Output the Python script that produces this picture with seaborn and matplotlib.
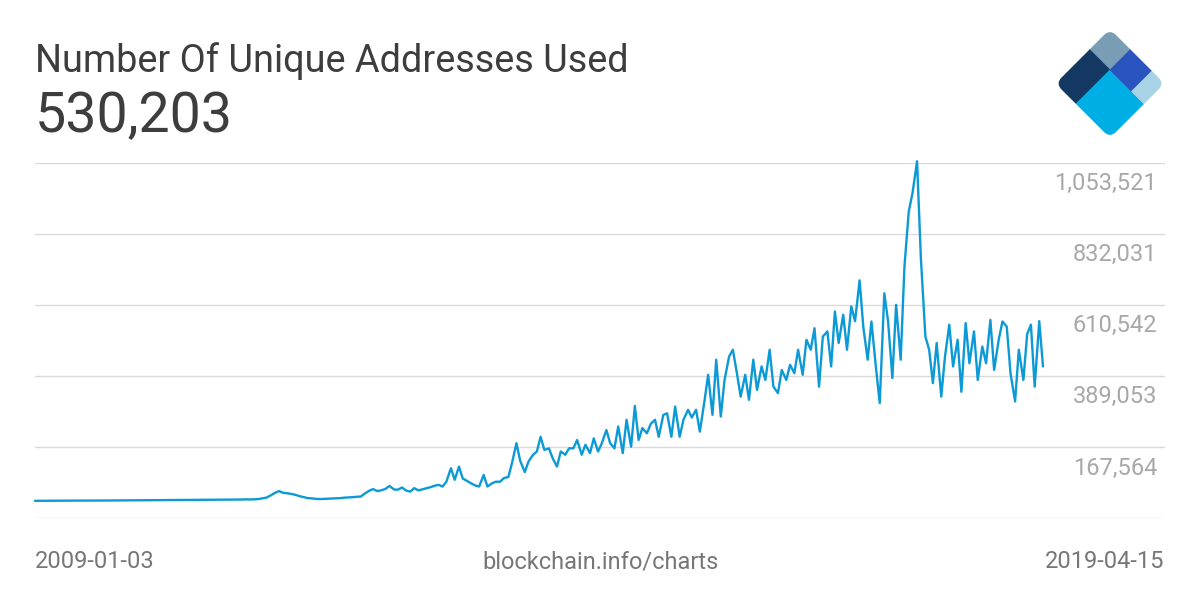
import numpy as np
import pandas as pd
import matplotlib
matplotlib.use("Agg")
import matplotlib.pyplot as plt
import matplotlib.patches as mpatches
from matplotlib.transforms import Affine2D
import seaborn as sns

# unique addresses per day, in thousands, sampled on the 1st and 15th of each month
addr_2009 = [0.5, 0.6, 0.7, 0.8, 0.8, 0.9, 0.9, 1.0, 1.0, 1.1, 1.1, 1.2,
             1.2, 1.3, 1.3, 1.4, 1.4, 1.5, 1.5, 1.6, 1.6, 1.7, 1.8, 1.9]
addr_2010 = [1.9, 2.1, 2.2, 2.2, 2.4, 2.5, 2.5, 2.7, 2.8, 2.8, 3.0, 3.1,
             3.1, 3.3, 3.4, 3.4, 3.5, 3.6, 3.6, 3.8, 3.9, 3.9, 4.0, 4.1]
addr_2011 = [4.2, 4.3, 4.5, 4.6, 5.0, 4.8, 5.2, 6.0, 8.5, 10.5, 18, 25,
             31, 25.5, 24, 22, 19, 15, 12, 9, 8, 6.5, 6, 6.5]
addr_2012 = [7, 7.5, 8.5, 9, 10.5, 11, 12, 13, 14, 23, 32, 37,
             31, 33, 38, 47, 36, 35, 42, 33, 29, 40, 33, 36]
addr_2013 = [40, 43, 48, 50, 45, 60, 102, 66, 107, 70, 62, 55,
             48, 45, 81, 45, 55, 60, 60, 71, 75, 120, 180, 125]
addr_2014 = [90, 123, 144, 154, 200, 159, 164, 133, 107, 154, 144, 164,
             164, 190, 144, 175, 149, 195, 154, 180, 221, 180, 164, 232]
addr_2015 = [149, 253, 169, 296, 190, 227, 211, 240, 253, 200, 268, 273,
             200, 294, 200, 253, 284, 260, 284, 216, 310, 393, 268, 440]
addr_2016 = [263, 377, 450, 471, 398, 325, 393, 315, 440, 346, 419, 377,
             471, 356, 336, 408, 377, 424, 398, 471, 393, 502, 471, 538]
addr_2017 = [356, 512, 528, 419, 590, 492, 580, 471, 606, 560, 687, 540,
             440, 559, 414, 305, 647, 560, 383, 611, 440, 730, 901, 959]
addr_2018 = [1058, 760, 512, 471, 367, 492, 325, 450, 549, 419, 502, 340,
             554, 429, 528, 377, 481, 429, 564, 408, 502, 559, 543, 398]
addr_2019 = [310, 471, 377, 520, 549, 356, 560, 419]

first_day = "2009-01-03"
last_day = "2019-04-15"
tick_values = [1053521, 832031, 610542, 389053, 167564, -53925]
tick_labels = ["1,053,521", "832,031", "610,542", "389,053", "167,564", ""]

title = "Number Of Unique Addresses Used"
headline = "530,203"
source = "blockchain.info/charts"

values = np.concatenate([addr_2009, addr_2010, addr_2011, addr_2012, addr_2013,
                         addr_2014, addr_2015, addr_2016, addr_2017, addr_2018,
                         addr_2019]) * 1000
dates = pd.date_range("2009-01-01", last_day, freq="SMS")
dates = dates.where(dates != pd.Timestamp("2009-01-01"), pd.Timestamp(first_day))
df = pd.DataFrame({"date": dates, "addresses": values})

sns.set_style("white")
plt.rcParams["font.family"] = ["Roboto", "DejaVu Sans"]

W, H = 1200, 600
fig = plt.figure(figsize=(12, 6), dpi=100)

# main plot area (pixel box 35..1165 x 162.7..518.3)
ax = fig.add_axes([35 / W, 1 - 518.3 / H, 1130 / W, (518.3 - 162.7) / H])
sns.lineplot(data=df, x="date", y="addresses", ax=ax, color="#0b9ad6",
             linewidth=1.7, clip_on=False)

start, end = pd.Timestamp(first_day), pd.Timestamp(last_day)
ax.set_xlim(start, end + (end - start) * (1165 - 1043) / (1043 - 35))
ax.set_ylim(tick_values[-1], tick_values[0])
ax.set_yticks(tick_values)
ax.set_yticklabels([])
ax.set_xticks([])
ax.tick_params(length=0)
ax.grid(axis="y", color="#dadada", linewidth=1)
ax.set_xlabel("")
ax.set_ylabel("")
for s in ax.spines.values():
    s.set_visible(False)

for v, lab in zip(tick_values, tick_labels):
    ax.annotate(lab, xy=(1 - 8 / 1130, v), xycoords=ax.get_yaxis_transform(),
                xytext=(0, -19.7), textcoords="offset points",
                ha="right", va="baseline", fontsize=17, color="#a8a8a8")

# header and footer
fig.text(35 / W, 1 - 71.7 / H, title, fontsize=27.3, color="#3d3d3d", va="baseline")
fig.text(35 / W, 1 - 131.7 / H, headline, fontsize=40, color="#3d3d3d", va="baseline")
fig.text(35 / W, 1 - 568 / H, first_day, fontsize=17, color="#777777", va="baseline")
fig.text(600 / W, 1 - 568 / H, source, fontsize=17, color="#777777",
         va="baseline", ha="center")
fig.text(1164 / W, 1 - 568 / H, last_day, fontsize=17, color="#777777",
         va="baseline", ha="right")

# logo: rounded square turned 45 degrees, split into coloured blocks
lx = fig.add_axes([(1110 - 60) / W, (H - 83.5 - 60) / H, 120 / W, 120 / H])
lx.set_xlim(-60, 60)
lx.set_ylim(-60, 60)
lx.axis("off")
side = 77
k = side / np.sqrt(2)
rot = Affine2D(np.array([[k, -k, 0], [-k, -k, k], [0, 0, 1]])) + lx.transData
outline = mpatches.FancyBboxPatch((0, 0), 1, 1, boxstyle="round,pad=0,rounding_size=0.11",
                                  transform=rot, facecolor="none", edgecolor="none")
lx.add_patch(outline)
blocks = [((0, 0), 0.375, 0.375, "#789db4"),
          ((0, 0.375), 0.375, 0.625, "#133962"),
          ((0.375, 0.375), 0.625, 0.625, "#00aee6"),
          ((0.375, 0), 0.395, 0.375, "#2b55be"),
          ((0.77, 0), 0.23, 0.375, "#a8d2e6")]
for xy, wa, wb, col in blocks:
    r = mpatches.Rectangle(xy, wa, wb, transform=rot, facecolor=col,
                           edgecolor=col, linewidth=0.5)
    lx.add_patch(r)
    r.set_clip_path(outline)

fig.savefig("out.png", dpi=100)
